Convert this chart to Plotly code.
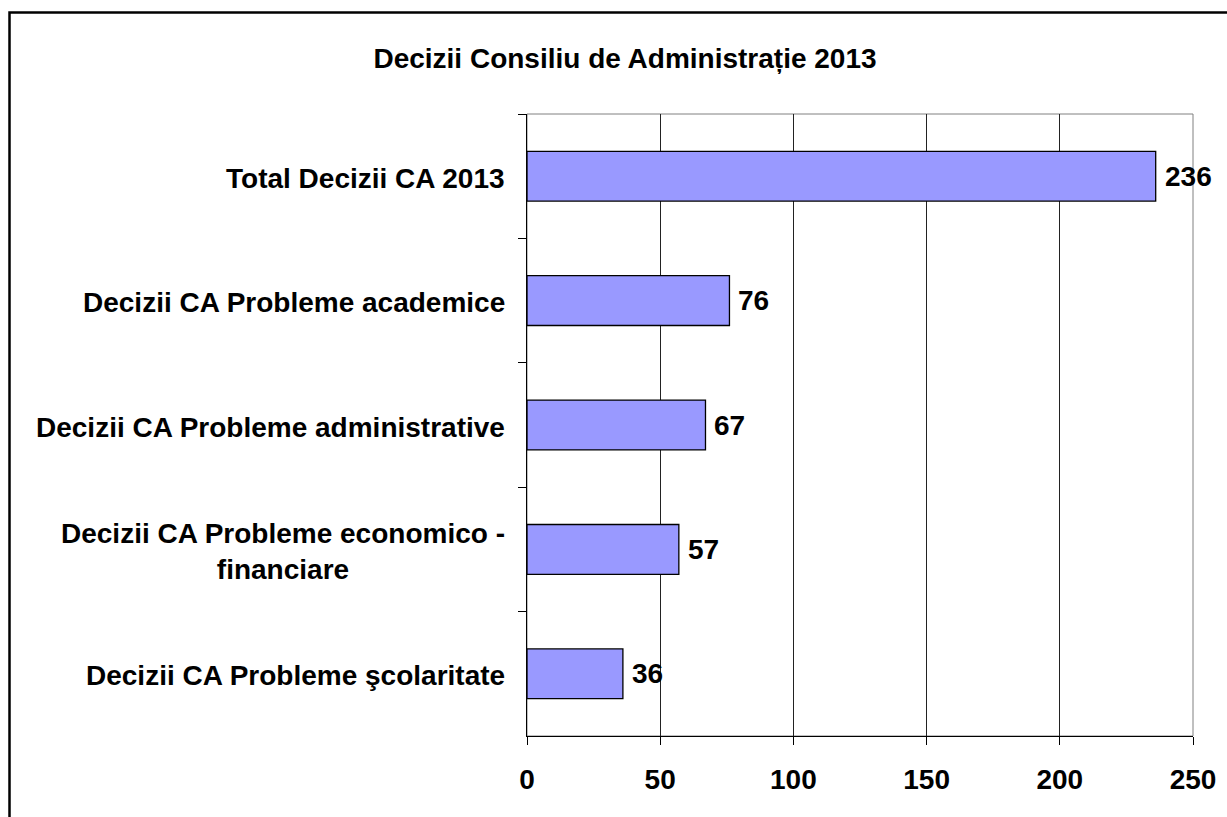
import plotly.graph_objects as go

categories = [
    "Total Decizii CA 2013",
    "Decizii CA Probleme academice",
    "Decizii CA Probleme administrative",
    "Decizii CA Probleme economico -<br>financiare",
    "Decizii CA Probleme şcolaritate",
]
values = [236, 76, 67, 57, 36]
x_ticks = [0, 50, 100, 150, 200, 250]
title_text = "Decizii Consiliu de Administrație 2013"

W, H = 1227, 817
L, R, T, B = 527, 34, 114, 81
FONT = "Liberation Sans, Arial, sans-serif"

fig = go.Figure()
fig.add_trace(go.Bar(
    x=values, y=categories, orientation="h",
    width=0.4,
    marker=dict(color="#9999FF", line=dict(color="#000000", width=1.3)),
    hoverinfo="skip",
))

annotations = []
for c, v in zip(categories, values):
    annotations.append(dict(
        x=v, y=c, xref="x", yref="y", text=str(v), showarrow=False,
        xanchor="left", yanchor="middle", xshift=7,
        font=dict(family=FONT, size=28, color="#000", weight="bold"),
    ))
    annotations.append(dict(
        x=0, y=c, xref="paper", yref="y", text=c, showarrow=False,
        xanchor="right", yanchor="middle", xshift=-20, yshift=-2, align="center",
        font=dict(family=FONT, size=28, color="#000", weight="bold"),
    ))

pw = W - L - R
ph = H - T - B
shapes = [
    # outer chart border (partly cropped)
    dict(type="rect", xref="paper", yref="paper",
         x0=(9.5 - L) / pw, x1=(W + 50 - L) / pw,
         y0=(H - B - (H + 50)) / ph, y1=(H - B - 12.5) / ph,
         line=dict(color="#000", width=2.5), fillcolor="rgba(0,0,0,0)", layer="below"),
    # plot area border (gray)
    dict(type="rect", xref="paper", yref="paper", x0=0, x1=1, y0=0, y1=1,
         line=dict(color="#808080", width=1), fillcolor="rgba(0,0,0,0)", layer="below"),
]

fig.update_layout(
    width=W, height=H,
    margin=dict(l=L, r=R, t=T, b=B, pad=0),
    paper_bgcolor="white", plot_bgcolor="white",
    showlegend=False,
    title=dict(text=title_text, x=625 / W, xref="container", xanchor="center",
               y=1 - 58 / H, yref="container", yanchor="middle",
               font=dict(family=FONT, size=28, color="#000", weight="bold")),
    font=dict(family=FONT, size=28, color="#000"),
    xaxis=dict(range=[0, 250], tickvals=x_ticks, ticktext=[str(t) for t in x_ticks],
               showgrid=True, gridcolor="#222", gridwidth=1,
               showline=True, linecolor="#000", linewidth=1.3,
               ticks="outside", ticklen=8, tickcolor="#000", tickwidth=1.3,
               ticklabelstandoff=10,
               tickfont=dict(family=FONT, size=28, color="#000", weight="bold"),
               zeroline=False, fixedrange=True),
    yaxis=dict(type="category", autorange="reversed", tickson="boundaries",
               showticklabels=False, showgrid=False,
               showline=True, linecolor="#000", linewidth=1.3,
               ticks="outside", ticklen=8, tickcolor="#000", tickwidth=1.3,
               zeroline=False, fixedrange=True),
    annotations=annotations,
    shapes=shapes,
    bargap=0.6,
)

fig.write_html("out.html")
